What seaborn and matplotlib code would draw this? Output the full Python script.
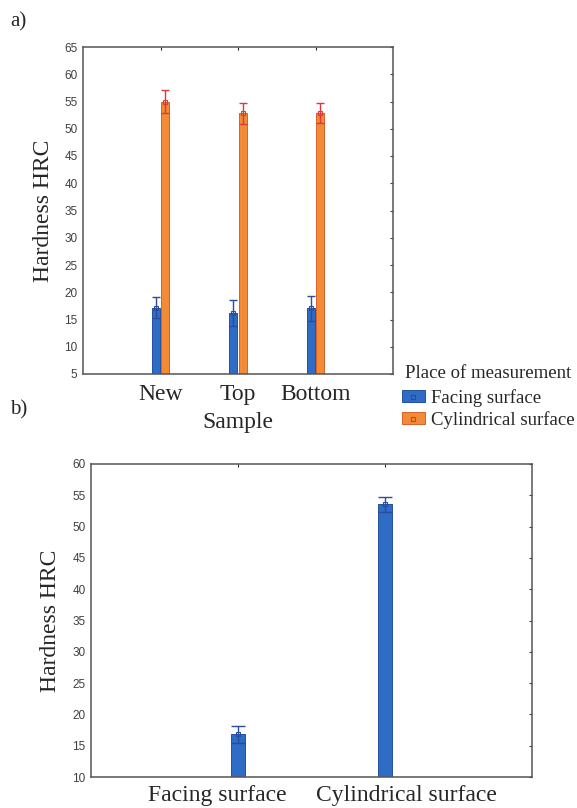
import pandas as pd
import seaborn as sns
import matplotlib.pyplot as plt
from matplotlib.lines import Line2D
from matplotlib.transforms import ScaledTranslation

# panel a) data
samples = ["New", "Top", "Bottom"]
places = ["Facing surface", "Cylindrical surface"]
facing_mean = [17.2, 16.2, 17.1]
facing_err = [2.0, 2.4, 2.3]
cyl_mean = [55.0, 52.8, 52.9]
cyl_err = [2.1, 2.0, 1.8]

# panel b) data
surfaces = ["Facing surface", "Cylindrical surface"]
surf_mean = [16.8, 53.6]
surf_err = [1.3, 1.2]

blue = "#2e6cc6"
orange = "#f28a36"
blue_edge = "#24509e"
orange_edge = "#d9602a"
blue_err = "#2b4c9c"
red_err = "#dc3a3a"

sns.set_style("white")
plt.rcParams["font.family"] = ["DejaVu Sans"]
serif = "Liberation Serif"
sans = "Liberation Sans"

df_a = pd.DataFrame({
    "Sample": samples * 2,
    "Place": [places[0]] * 3 + [places[1]] * 3,
    "HRC": facing_mean + cyl_mean,
    "err": facing_err + cyl_err,
})
df_b = pd.DataFrame({"Surface": surfaces, "HRC": surf_mean, "err": surf_err})

W, H = 577, 808
fig = plt.figure(figsize=(W / 100, H / 100), dpi=100)
ax1 = fig.add_axes([83 / W, 1 - 374 / H, (393 - 83) / W, (374 - 47) / H])
ax2 = fig.add_axes([91 / W, 1 - 777 / H, (532 - 91) / W, (777 - 464) / H])


def style_axes(ax):
    ax.tick_params(axis="y", labelsize=8.5, colors="#404040", length=2.5,
                   direction="in", right=True, pad=4)
    ax.tick_params(axis="x", labelsize=17, length=2.5, direction="in", top=True)
    for lbl in ax.get_yticklabels():
        lbl.set_family(sans)
    for lbl in ax.get_xticklabels():
        lbl.set_family(serif)
    for s in ax.spines.values():
        s.set_color("#555555")
        s.set_linewidth(1.1)


# top panel
sns.barplot(data=df_a, x="Sample", y="HRC", hue="Place", hue_order=places,
            palette=[blue, orange], saturation=1, width=0.25, gap=0.2,
            errorbar=None, linewidth=0.7, ax=ax1)
for bar, (_, row) in zip(ax1.patches[:6], df_a.iterrows()):
    is_facing = row["Place"] == places[0]
    bar.set_edgecolor(blue_edge if is_facing else orange_edge)
    c = blue_err if is_facing else red_err
    xc = bar.get_x() + bar.get_width() / 2
    ax1.errorbar(xc, row["HRC"], yerr=row["err"], fmt="none", ecolor=c,
                 elinewidth=1.0, capsize=3, capthick=1.0)
    ax1.plot(xc, row["HRC"], marker="s", ms=2.5, mfc="none", mec=c, mew=0.8)
ax1.set_xlim(-1, 3)
ax1.set_ylim(5, 65)
ax1.set_yticks(range(5, 66, 5))
ax1.set_ylabel("Hardness HRC", family=serif, fontsize=17)
ax1.yaxis.set_label_coords(-0.092, 0.5)
ax1.set_xlabel("Sample", family=serif, fontsize=17, labelpad=5)
style_axes(ax1)
ax1.tick_params(axis="x", pad=7)

ax1.get_legend().remove()
handles = [
    (plt.Rectangle((0, 0), 1, 1, fc=blue, ec=blue_edge, lw=0.7),
     Line2D([], [], ls="none", marker="s", ms=2.5, mfc="none", mec=blue_err, mew=0.8)),
    (plt.Rectangle((0, 0), 1, 1, fc=orange, ec=orange_edge, lw=0.7),
     Line2D([], [], ls="none", marker="s", ms=2.5, mfc="none", mec=red_err, mew=0.8)),
]
leg = fig.legend(handles, places, title="Place of measurement",
                 loc="upper left", bbox_to_anchor=(402 / W, 1 - 365 / H),
                 frameon=False, prop={"family": serif, "size": 13.5},
                 handlelength=1.2, handleheight=0.6, handletextpad=0.35,
                 labelspacing=0.22, borderpad=0, borderaxespad=0)
leg.get_title().set_family(serif)
leg.get_title().set_fontsize(13.5)
leg._legend_box.sep = 5

# bottom panel
sns.barplot(data=df_b, x="Surface", y="HRC", color=blue, saturation=1,
            width=0.1, errorbar=None, edgecolor=blue_edge, linewidth=0.7, ax=ax2)
for bar, (_, row) in zip(ax2.patches, df_b.iterrows()):
    xc = bar.get_x() + bar.get_width() / 2
    ax2.errorbar(xc, row["HRC"], yerr=row["err"], fmt="none", ecolor=blue_err,
                 elinewidth=1.0, capsize=5, capthick=1.0)
    ax2.plot(xc, row["HRC"], marker="s", ms=2.5, mfc="none", mec=blue_err, mew=0.8)
ax2.set_xlim(-1, 2)
ax2.set_ylim(10, 60)
ax2.set_yticks(range(10, 61, 5))
ax2.set_ylabel("Hardness HRC", family=serif, fontsize=17)
ax2.yaxis.set_label_coords(-0.068, 0.5)
ax2.set_xlabel("")
style_axes(ax2)
ax2.tick_params(axis="x", pad=6)
# labels sit spread outward from their bars
for lbl, dx in zip(ax2.get_xticklabels(), [-0.21, 0.21]):
    lbl.set_transform(lbl.get_transform() + ScaledTranslation(dx, 0, fig.dpi_scale_trans))

fig.text(10 / W, 1 - 22 / H, "a)", family=serif, fontsize=15, va="center")
fig.text(10 / W, 1 - 410 / H, "b)", family=serif, fontsize=15, va="center")

fig.savefig("out.png", dpi=100)
